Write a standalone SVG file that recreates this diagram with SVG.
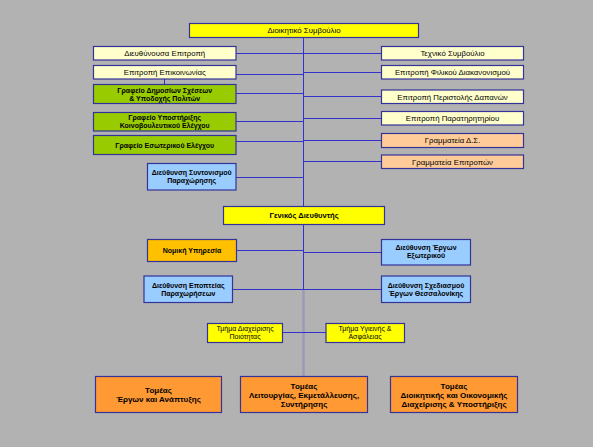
<svg xmlns="http://www.w3.org/2000/svg" width="593" height="447" viewBox="0 0 593 447">
<style>
.b{stroke:#333399;stroke-width:1.2}
.ly{fill:#ffffcc}.gr{fill:#99cc00}.lb{fill:#99ccff}.pe{fill:#ffcc99}.ye{fill:#ffff00}.am{fill:#ffc000}.or{fill:#ff9933}
text{font-family:"Liberation Sans",Arial,sans-serif;font-size:7.8px;fill:#000;text-anchor:middle}
.bd{font-weight:bold;font-size:7px}
.sm{font-size:7px}
.bg{font-weight:bold;font-size:7.6px}
.bt{font-weight:bold;font-size:8px}
.c{stroke:#3333cc;stroke-width:1;fill:none}
</style>
<rect width="593" height="447" fill="#b2b2b2"/>
<g id="connectors">
<line class="c" x1="303.5" y1="37" x2="303.5" y2="289.5"/>
<line x1="303.5" y1="289.5" x2="303.5" y2="376" stroke="#9a9ab4" stroke-width="2.5"/>
<line class="c" x1="236" y1="53.5" x2="382" y2="53.5"/>
<line class="c" x1="236" y1="74.5" x2="303.5" y2="74.5"/>
<line class="c" x1="303.5" y1="72.5" x2="382" y2="72.5"/>
<line class="c" x1="236" y1="93.5" x2="303.5" y2="93.5"/>
<line class="c" x1="303.5" y1="96.5" x2="382" y2="96.5"/>
<line class="c" x1="303.5" y1="118.5" x2="382" y2="118.5"/>
<line class="c" x1="236" y1="121.5" x2="303.5" y2="121.5"/>
<line class="c" x1="303.5" y1="140.5" x2="382" y2="140.5"/>
<line class="c" x1="236" y1="141.5" x2="303.5" y2="141.5"/>
<line class="c" x1="303.5" y1="161.5" x2="382" y2="161.5"/>
<line class="c" x1="236" y1="177.5" x2="303.5" y2="177.5"/>
<line class="c" x1="164.5" y1="79" x2="164.5" y2="84.5"/>
<line class="c" x1="237" y1="250.5" x2="303.5" y2="250.5"/>
<line class="c" x1="303.5" y1="252.5" x2="382" y2="252.5"/>
<line class="c" x1="233" y1="289.5" x2="382" y2="289.5"/>
<line class="c" x1="283" y1="332.5" x2="326" y2="332.5"/>
</g>
<g id="n1"><rect class="b ye" x="189.5" y="23.5" width="229" height="14"/><text x="304" y="33.3">Διοικητικό Συμβούλιο</text></g>
<g id="n2"><rect class="b ly" x="93.5" y="46.5" width="142.5" height="13.5"/><text x="164.7" y="56">Διευθύνουσα Επιτροπή</text></g>
<g id="n3"><rect class="b ly" x="93.5" y="65.5" width="142.5" height="13.5"/><text x="164.7" y="75">Επιτροπή Επικοινωνίας</text></g>
<g id="n4"><rect class="b gr" x="93.5" y="84.5" width="142.5" height="19"/><text class="bd" x="164.7" y="92.5">Γραφείο Δημοσίων Σχέσεων</text><text class="bd" x="164.7" y="100.5">&amp; Υποδοχής Πολιτών</text></g>
<g id="n5"><rect class="b gr" x="93.5" y="112.5" width="142.5" height="18.5"/><text class="bd" x="164.7" y="120.3">Γραφείο Υποστήριξης</text><text class="bd" x="164.7" y="128.3">Κοινοβουλευτικού Ελέγχου</text></g>
<g id="n6"><rect class="b gr" x="93.5" y="135.5" width="142.5" height="19"/><text class="bd" x="164.7" y="147.5">Γραφείο Εσωτερικού Ελέγχου</text></g>
<g id="n7"><rect class="b ly" x="381.5" y="46.5" width="142" height="13.5"/><text x="452.5" y="56">Τεχνικό Συμβούλιο</text></g>
<g id="n8"><rect class="b ly" x="381.5" y="65.5" width="142" height="13.5"/><text x="452.5" y="75">Επιτροπή Φιλικού Διακανονισμού</text></g>
<g id="n9"><rect class="b ly" x="381.5" y="90" width="142" height="13.5"/><text x="452.5" y="99.5">Επιτροπή Περιστολής Δαπανών</text></g>
<g id="n10"><rect class="b ly" x="381.5" y="111.5" width="142" height="13.5"/><text x="452.5" y="121">Επιτροπή Παρατηρητηρίου</text></g>
<g id="n11"><rect class="b pe" x="381.5" y="133.5" width="142" height="14"/><text x="452.5" y="143.2">Γραμματεία Δ.Σ.</text></g>
<g id="n12"><rect class="b pe" x="381.5" y="155" width="142" height="13.5"/><text x="452.5" y="164.5">Γραμματεία Επιτροπών</text></g>
<g id="n13"><rect class="b lb" x="147.5" y="163.5" width="88.5" height="26.5"/><text class="bd" x="191.7" y="175">Διεύθυνση Συντονισμού</text><text class="bd" x="191.7" y="183">Παραχώρησης</text></g>
<g id="n14"><rect class="b ye" x="223.5" y="206.5" width="161" height="18"/><text class="bg" x="304" y="218.3">Γενικός Διευθυντής</text></g>
<g id="n15"><rect class="b am" x="147.5" y="239.5" width="89" height="22"/><text class="bd" x="192" y="253">Νομική Υπηρεσία</text></g>
<g id="n16"><rect class="b lb" x="381.5" y="239.5" width="89" height="25.5"/><text class="bd" x="426" y="250">Διεύθυνση Έργων</text><text class="bd" x="426" y="258">Εξωτερικού</text></g>
<g id="n17"><rect class="b lb" x="144" y="276" width="88.5" height="26.5"/><text class="bd" x="188.3" y="287.5">Διεύθυνση Εποπτείας</text><text class="bd" x="188.3" y="295.5">Παραχωρήσεων</text></g>
<g id="n18"><rect class="b lb" x="381.5" y="276" width="89" height="26.5"/><text class="bd" x="426" y="287.5">Διεύθυνση Σχεδιασμού</text><text class="bd" x="426" y="295.5">Έργων Θεσσαλονίκης</text></g>
<g id="n19"><rect class="b ye" x="207.5" y="323.5" width="75" height="19"/><text class="sm" x="245" y="331">Τμήμα Διαχείρισης</text><text class="sm" x="245" y="339">Ποιότητας</text></g>
<g id="n20"><rect class="b ye" x="326" y="323.5" width="78.5" height="19"/><text class="sm" x="365" y="331">Τμήμα Υγιεινής &amp;</text><text class="sm" x="365" y="339">Ασφάλειας</text></g>
<g id="n21"><rect class="b or" x="95.5" y="376.5" width="126" height="36"/><text class="bt" x="158.5" y="393">Τομέας</text><text class="bt" x="158.5" y="402">Έργων και Ανάπτυξης</text></g>
<g id="n22"><rect class="b or" x="240.5" y="376.5" width="127" height="36"/><text class="bt" x="304" y="389">Τομέας</text><text class="bt" x="304" y="398">Λειτουργίας, Εκμετάλλευσης,</text><text class="bt" x="304" y="407">Συντήρησης</text></g>
<g id="n23"><rect class="b or" x="390.5" y="376.5" width="127" height="36"/><text class="bt" x="454" y="389">Τομέας</text><text class="bt" x="454" y="398">Διοικητικής και Οικονομικής</text><text class="bt" x="454" y="407">Διαχείρισης &amp; Υποστήριξης</text></g>
</svg>
